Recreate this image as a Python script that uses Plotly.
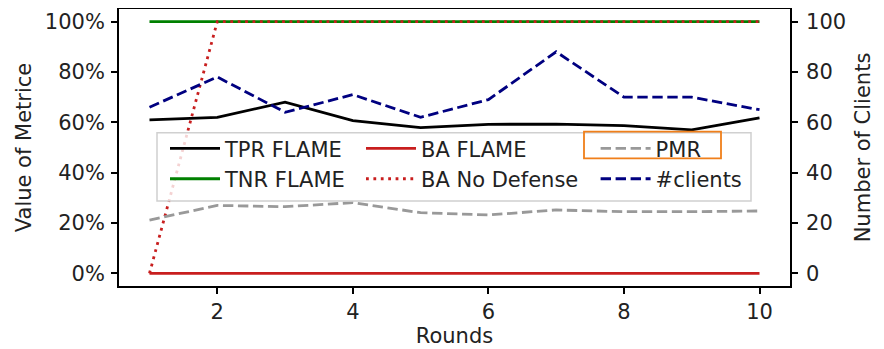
import plotly.graph_objects as go

rounds = [1, 2, 3, 4, 5, 6, 7, 8, 9, 10]
tpr_flame = [61.0, 62.0, 68.0, 60.7, 57.9, 59.2, 59.3, 58.7, 57.0, 61.8]
tnr_flame = [100, 100, 100, 100, 100, 100, 100, 100, 100, 100]
ba_flame = [0, 0, 0, 0, 0, 0, 0, 0, 0, 0]
ba_no_defense = [0, 100, 100, 100, 100, 100, 100, 100, 100, 100]
pmr = [21.2, 27.0, 26.5, 28.1, 24.1, 23.2, 25.2, 24.5, 24.5, 24.8]
n_clients = [66, 78, 64, 71, 62, 69, 88, 70, 70, 65]

pct_ticks = [0, 20, 40, 60, 80, 100]
pct_labels = ["0%", "20%", "40%", "60%", "80%", "100%"]
client_ticks = [0, 20, 40, 60, 80, 100]
x_ticks = [2, 4, 6, 8, 10]

FONT = "DejaVu Sans"
LW = 2.8
DOT = "2.8px,4.6px"
DASH = "10.4px,4.6px"
RED = "#c81e1e"

# the page places the figure 8px from the top-left corner of the window
OFF = 8
W, H = 884 - OFF, 349 - OFF
# plot area in window pixels: x 119..790, y 9..286
ML, MR, MT, MB = 119 - OFF, 884 - 790, 9 - OFF, 349 - 286
PW, PH = W - ML - MR, H - MT - MB


def px(xp):
    return (xp - OFF - ML) / PW


def py(yp):
    return (H - MB - (yp - OFF)) / PH


fig = go.Figure()
fig.add_trace(go.Scatter(x=rounds, y=tpr_flame, mode="lines", name="TPR FLAME", legend="legend",
                         line=dict(color="black", width=LW)))
fig.add_trace(go.Scatter(x=rounds, y=tnr_flame, mode="lines", name="TNR FLAME", legend="legend",
                         line=dict(color="#008000", width=LW)))
fig.add_trace(go.Scatter(x=rounds, y=ba_flame, mode="lines", name="BA FLAME", legend="legend2",
                         line=dict(color=RED, width=LW)))
fig.add_trace(go.Scatter(x=rounds, y=ba_no_defense, mode="lines", name="BA No Defense", legend="legend2",
                         line=dict(color=RED, width=LW, dash=DOT)))
fig.add_trace(go.Scatter(x=rounds, y=pmr, mode="lines", name="PMR", legend="legend3",
                         line=dict(color="#999999", width=LW, dash=DASH)))
fig.add_trace(go.Scatter(x=rounds, y=n_clients, mode="lines", name="#clients", yaxis="y2", legend="legend3",
                         line=dict(color="#000080", width=LW, dash=DASH)))

axis_common = dict(showline=True, linecolor="black", linewidth=1.8, ticks="outside",
                   ticklen=6, tickwidth=1.5, tickcolor="black", showgrid=False,
                   zeroline=False, automargin=False,
                   tickfont=dict(family=FONT, size=21, color="#222"))

leg_common = dict(orientation="v", xanchor="left", yanchor="top", itemwidth=50,
                  bgcolor="rgba(0,0,0,0)", borderwidth=0,
                  font=dict(family=FONT, size=21, color="#222"), tracegroupgap=0)

fig.update_layout(
    width=W, height=H,
    margin=dict(l=ML, r=MR, t=MT, b=MB, autoexpand=False),
    plot_bgcolor="white", paper_bgcolor="white",
    font=dict(family=FONT, color="#222"),
    xaxis=dict(range=[0.55, 10.45], tickvals=x_ticks, mirror=True, ticklabelstandoff=0,
               title=dict(text="Rounds", font=dict(family=FONT, size=21), standoff=4),
               **axis_common),
    yaxis=dict(range=[-5, 105], tickvals=pct_ticks, ticktext=pct_labels, mirror=False,
               ticklabelstandoff=2,
               title=dict(text="Value of Metrice", font=dict(family=FONT, size=21), standoff=8),
               **axis_common),
    yaxis2=dict(range=[-5, 105], tickvals=client_ticks, overlaying="y", side="right",
                ticklabelstandoff=4,
                title=dict(text="Number of Clients", font=dict(family=FONT, size=21), standoff=10),
                **axis_common),
    legend=dict(x=px(165), y=py(128.3), **leg_common),
    legend2=dict(x=px(361), y=py(128.3), **leg_common),
    legend3=dict(x=px(595.6), y=py(128.3), **leg_common),
    showlegend=True,
)

# legend frame (semi-transparent, drawn over the lines like matplotlib's legend)
fig.add_shape(type="rect", xref="paper", yref="paper",
              x0=px(157), x1=px(751), y0=py(201), y1=py(132.7),
              line=dict(color="#d0d0d0", width=1.5), fillcolor="rgba(255,255,255,0.8)", layer="above")
# orange highlight box around the PMR entry
fig.add_shape(type="rect", xref="paper", yref="paper",
              x0=px(584), x1=px(721), y0=py(158.3), y1=py(131.7),
              line=dict(color="#f07f1a", width=1.8), fillcolor="rgba(0,0,0,0)", layer="above")

fig.write_html("out.html")
